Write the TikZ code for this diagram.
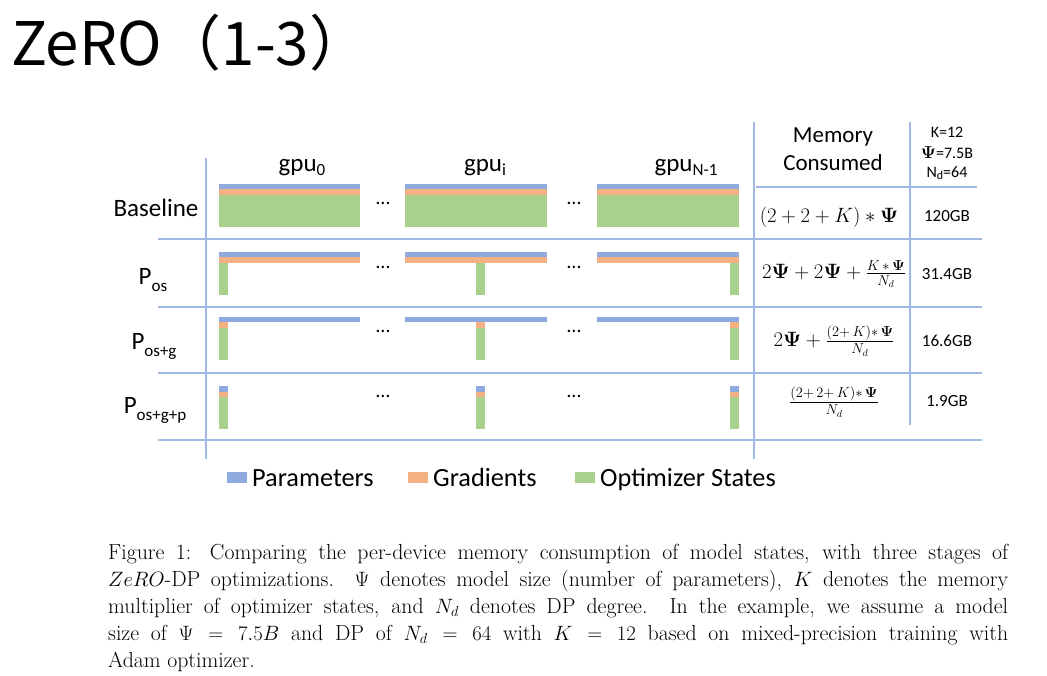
\documentclass[tikz,border=0pt]{standalone}
\usepackage{amsmath,amssymb}
\usepackage{fontspec}
\newfontfamily\carl{Carlito}
\newfontfamily\cjkf{Noto Sans CJK SC}
\definecolor{pblue}{RGB}{143,170,220}
\definecolor{porange}{RGB}{244,177,131}
\definecolor{pgreen}{RGB}{169,209,142}
\definecolor{gridc}{RGB}{160,184,228}
\newcommand{\lowsub}[2]{\raisebox{-#1}{\fontsize{17}{20}\selectfont #2}}
\begin{document}
\begin{tikzpicture}[x=1pt,y=-1pt,
  lbl/.style={font=\carl\fontsize{25}{30}\selectfont, inner sep=0, anchor=base},
  hdr/.style={font=\carl\fontsize{23}{28}\selectfont, inner sep=0, anchor=base, align=center},
  small/.style={font=\carl\fontsize{16}{20}\selectfont, inner sep=0, anchor=base},
  val/.style={font=\carl\fontsize{17}{20}\selectfont, inner sep=0, anchor=base},
  frm/.style={font=\fontsize{20}{24}\selectfont, inner sep=0, anchor=center},
  dots/.style={font=\carl\fontsize{20}{24}\selectfont, inner sep=0, anchor=center},
  gridline/.style={draw=gridc, line width=1.1pt},
  pb/.style={fill=pblue},
  po/.style={fill=porange},
  pg/.style={fill=pgreen},
  leg/.style={font=\carl\fontsize{26.3}{30}\selectfont, inner sep=0, anchor=base west}
]
\useasboundingbox (0,0) rectangle (1047,676);

% title
\node[anchor=base west, inner sep=0, font=\cjkf\fontsize{60}{62}\selectfont] (title) at (11,66) {ZeRO（1-3）};

% grid lines
\coordinate (vl1) at (206,158); \coordinate (vl2) at (206,459);
\draw[gridline] (vl1) -- (vl2);
\coordinate (vm1) at (754,122); \coordinate (vm2) at (754,459);
\draw[gridline] (vm1) -- (vm2);
\coordinate (vr1) at (910,122); \coordinate (vr2) at (910,425);
\draw[gridline] (vr1) -- (vr2);
\coordinate (hh1) at (756,187); \coordinate (hh2) at (977,187);
\draw[gridline] (hh1) -- (hh2);
\foreach \yy/\nm in {239/a,307/b,373/c,440/d}{
  \coordinate (h\nm1) at (158,\yy); \coordinate (h\nm2) at (982,\yy);
  \draw[gridline] (h\nm1) -- (h\nm2);
}

% column headers
\node[lbl] (g0) at (302,172) {gpu\lowsub{4pt}{0}};
\node[lbl] (gi) at (485,172) {gpu\lowsub{4pt}{i}};
\node[lbl] (gn) at (686,172) {gpu\lowsub{4pt}{N-1}};
\node[hdr] (mem1) at (833,143) {Memory};
\node[hdr] (mem2) at (833,171) {Consumed};
\node[small] (k1) at (947,138) {K=12};
\node[small] (k2) at (947,159) {$\boldsymbol{\Psi}$=7.5B};
\node[small] (k3) at (947,178) {N\lowsub{2pt}{\fontsize{12}{12}\selectfont d}=64};

% row labels
\node[lbl] (rbase) at (156,217) {Baseline};
\node[lbl] (ros) at (153,285) {P\lowsub{7pt}{os}};
\node[lbl] (rosg) at (154,349) {P\lowsub{7pt}{os+g}};
\node[lbl] (rosgp) at (155,413) {P\lowsub{7pt}{os+g+p}};

% bars: baseline
\foreach \xa/\xb in {219/360,405/547,597/739}{
  \path[pb] (\xa,184) rectangle (\xb,189);
  \path[po] (\xa,189) rectangle (\xb,195);
  \path[pg] (\xa,195) rectangle (\xb,227);
}
% P_os
\foreach \xa/\xb/\sa/\sb in {219/360/219/228,405/547/476/485,597/739/730/739}{
  \path[pb] (\xa,252) rectangle (\xb,257);
  \path[po] (\xa,257) rectangle (\xb,263);
  \path[pg] (\sa,263) rectangle (\sb,295);
}
% P_os+g
\foreach \xa/\xb/\sa/\sb in {219/360/219/228,405/547/476/485,597/739/730/739}{
  \path[pb] (\xa,317) rectangle (\xb,322);
  \path[po] (\sa,322) rectangle (\sb,328);
  \path[pg] (\sa,328) rectangle (\sb,360);
}
% P_os+g+p
\foreach \sa/\sb in {219/228,476/485,730/739}{
  \path[pb] (\sa,386) rectangle (\sb,392);
  \path[po] (\sa,392) rectangle (\sb,397);
  \path[pg] (\sa,397) rectangle (\sb,429);
}

% dots
\foreach \yy/\nm in {203/a,267/b,331/c,396/d}{
  \node[dots] (dl\nm) at (383,\yy) {…};
  \node[dots] (dr\nm) at (574,\yy) {…};
}

% formulas
\node[frm] (f1) at (829,217) {$(2+2+K)*\boldsymbol{\Psi}$};
\node[frm] (f2) at (834,274) {$2\boldsymbol{\Psi}+2\boldsymbol{\Psi}+\frac{K\,*\,\boldsymbol{\Psi}}{N_d}$};
\node[frm] (f3) at (834,341) {$2\boldsymbol{\Psi}+\frac{(2+\,K)*\,\boldsymbol{\Psi}}{N_d}$};
\node[frm] (f4) at (834,402) {$\frac{(2+\,2+\,K)*\,\boldsymbol{\Psi}}{N_d}$};

% values
\node[val] (v1) at (947,222) {120GB};
\node[val] (v2) at (947,280) {31.4GB};
\node[val] (v3) at (947,346) {16.6GB};
\node[val] (v4) at (947,406) {1.9GB};

% legend
\path[pb] (227,472) rectangle (247,483);
\node[leg] (lp) at (252,486) {Parameters};
\path[po] (408,472) rectangle (428,483);
\node[leg] (lg) at (433,486) {Gradients};
\path[pg] (575,472) rectangle (595,483);
\node[leg] (lo) at (600,486) {Optimizer States};

% caption
\node[anchor=base west, inner sep=0] (cap) at (108,559) {\parbox[t]{900pt}{\fontsize{21.8}{27}\selectfont
Figure 1: Comparing the per-device memory consumption of model states, with three stages of\linebreak
$ZeRO$-DP optimizations. $\Psi$ denotes model size (number of parameters), $K$ denotes the memory\linebreak
multiplier of optimizer states, and $N_d$ denotes DP degree. In the example, we assume a model\linebreak
size of $\Psi = 7.5B$ and DP of $N_d = 64$ with $K = 12$ based on mixed-precision training with\linebreak
Adam optimizer.}};
\end{tikzpicture}
\end{document}
